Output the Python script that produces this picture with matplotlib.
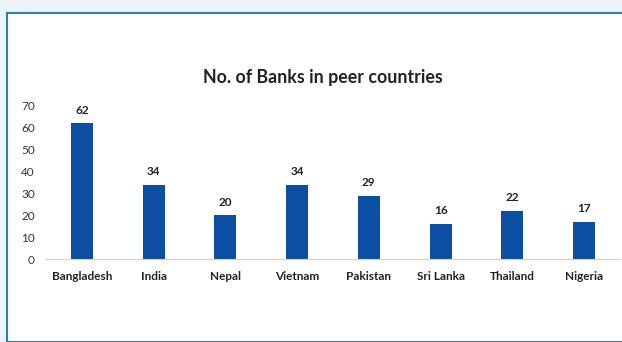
import matplotlib
matplotlib.use("Agg")
from matplotlib import pyplot as plt
from matplotlib.patches import Rectangle

countries = ["Bangladesh", "India", "Nepal", "Vietnam", "Pakistan", "Sri Lanka", "Thailand", "Nigeria"]
banks = [62, 34, 20, 34, 29, 16, 22, 17]

plt.rcParams['font.family'] = ['Lato', 'DejaVu Sans']

fig = plt.figure(figsize=(6.22, 3.42), dpi=100)

# background: light blue band on top and left, blue frame
fig.patches.append(Rectangle((0, 0), 1, 1, transform=fig.transFigure, color='#eaf4f9', zorder=-3))
fig.patches.append(Rectangle((7/622, 0), 1, 1 - 13/342, transform=fig.transFigure,
                             facecolor='white', edgecolor='#2f7fa8', linewidth=1.5, zorder=-2))

ax = fig.add_axes([46/622, 1 - 259/342, 574/622, 153/342])
ax.bar(countries, banks, width=0.31, color='#0b4ea2')
for i, v in enumerate(banks):
    ax.text(i, v + 3.5, str(v), ha='center', va='bottom', fontsize=8.5, fontweight='bold', color='#222222')

ax.set_ylim(0, 70)
ax.set_xlim(-0.5, len(countries) - 0.5)
ax.set_yticks(range(0, 71, 10))
ax.tick_params(axis='y', length=0, labelsize=8.5, colors='#333333', pad=8)
ax.tick_params(axis='x', length=0, labelsize=8.5, pad=9)
for lbl in ax.get_xticklabels():
    lbl.set_fontweight('bold')
    lbl.set_color('#222222')
for s in ['top', 'right', 'left']:
    ax.spines[s].set_visible(False)
ax.spines['bottom'].set_color('#d0d0d0')
ax.patch.set_alpha(0)

fig.text(323/622, 1 - 77/342, 'No. of Banks in peer countries', ha='center', va='center',
         fontsize=12.8, fontweight='bold', color='#222222')

plt.savefig('out.png', dpi=100)
